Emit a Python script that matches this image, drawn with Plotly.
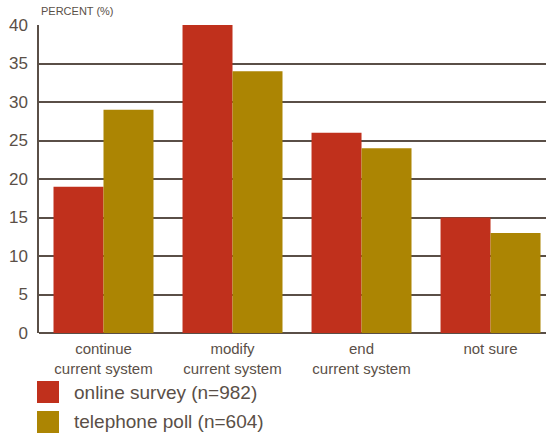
import plotly.graph_objects as go

categories = ["continue<br>current system", "modify<br>current system", "end<br>current system", "not sure"]
online = [19, 40, 26, 15]
phone = [29, 34, 24, 13]
series_names = ["online survey (n=982)", "telephone poll (n=604)"]
colors = ["#C0301C", "#AC8503"]
y_ticks = [0, 5, 10, 15, 20, 25, 30, 35, 40]

text_col = "#5a4f47"
grid_col = "#5a4f47"

fig = go.Figure()
for name, vals, c in zip(series_names, [online, phone], colors):
    fig.add_trace(go.Bar(x=list(range(len(categories))), y=vals, name=name,
                         marker=dict(color=c, line=dict(width=0)), showlegend=False))

fig.update_layout(
    width=546, height=436,
    margin=dict(l=39, r=0, t=25, b=103),
    paper_bgcolor="white", plot_bgcolor="white",
    barmode="group", bargap=0.225, bargroupgap=0,
    font=dict(family="Liberation Sans", color=text_col),
    xaxis=dict(range=[-0.5, 3.43], tickmode="array", tickvals=list(range(len(categories))),
               ticktext=categories, showgrid=False, zeroline=False, showline=False,
               ticks="", ticklabelstandoff=5,
               tickfont=dict(family="Liberation Sans", size=15, color=text_col)),
    yaxis=dict(range=[0, 40], tickvals=y_ticks, showgrid=True, gridcolor=grid_col, gridwidth=1.5,
               zeroline=True, zerolinecolor=grid_col, zerolinewidth=2,
               showline=True, linecolor=grid_col, linewidth=1.5, mirror=False,
               ticks="", ticklabelstandoff=6,
               tickfont=dict(size=17, color=text_col)),
)

fig.add_annotation(text="PERCENT (%)", xref="paper", yref="paper", x=0, y=1, yshift=6,
                   xanchor="left", yanchor="bottom", showarrow=False,
                   font=dict(size=11, color=text_col))

# legend drawn manually
leg_y = [392, 422]
for name, c, yc in zip(series_names, colors, leg_y):
    fig.add_shape(type="rect", xref="paper", yref="paper",
                  x0=(37 - 39) / 507, x1=(59 - 39) / 507,
                  y0=(333 - (yc + 11)) / 308, y1=(333 - (yc - 11)) / 308,
                  fillcolor=c, line=dict(width=0))
    fig.add_annotation(text=name, xref="paper", yref="paper",
                       x=(72 - 39) / 507, y=(333 - yc) / 308, xanchor="left", yanchor="middle",
                       showarrow=False, font=dict(size=19, color=text_col))

fig.write_html("out.html")
